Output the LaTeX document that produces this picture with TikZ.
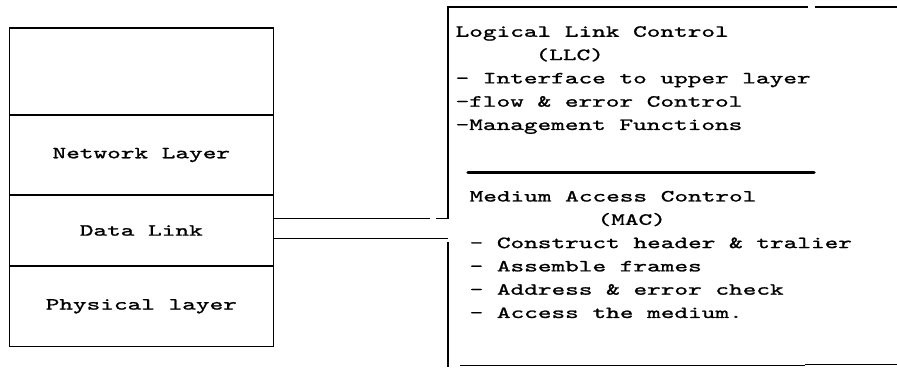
\documentclass[tikz,border=0pt]{standalone}
\usepackage{fontspec}
\setmonofont{lmmono10-regular.otf}[FakeStretch=1.53,FakeBold=1.2]
\newcommand{\laytext}{\ttfamily\fontsize{17}{23.3}\selectfont}
\begin{document}
\begin{tikzpicture}[x=1pt,y=-1pt,line width=1.2pt,
  layer/.style={draw,minimum width=264pt,inner sep=0pt,font=\laytext},
  sublayer/.style={anchor=north west,inner sep=0pt,align=left,font=\laytext}]
\useasboundingbox (0,0) rectangle (897,367);
\node[layer,minimum height=87pt] (upper) at (141.3,71.5) {};
\node[layer,minimum height=80pt] (net) at (141.3,155) {Network Layer};
\node[layer,minimum height=71pt] (dl) at (141.3,230.5) {Data Link};
\node[layer,minimum height=80.7pt] (phy) at (141.3,306.3) {Physical layer};
\node[sublayer] (llc) at (455,25.6) {Logical Link Control\\\hspace*{80pt}(LLC)\\- Interface to upper layer\\-flow \& error Control\\-Management Functions};
\node[sublayer] (mac) at (469,190.3) {Medium Access Control\\\hspace*{128pt}(MAC)\\- Construct header \& tralier\\- Assemble frames\\- Address \& error check\\- Access the medium.};
\draw[line width=3.5pt,line cap=round] (468,172.7) -- (814,172.7);
\coordinate (llcfoot) at (448,218.5);
\coordinate (llctop) at (448,7);
\coordinate (macfoot) at (448,238.5);
\draw (dl.east |- llcfoot) -- ++(156,0);
\draw (llcfoot) ++(-12,0) -- (llcfoot) -- (llctop) -- ++(360,0);
\draw (llctop) ++(367,0) -- (897,7);
\draw[line width=2pt] (llctop) -- ++(0,12);
\draw (dl.east |- macfoot) -- (macfoot);
\draw (448,242) -- (448,367);
\draw (460,365.5) -- (805,365.5);
\draw[line width=1.5pt] (805,364.5) -- (897,364.5);
\end{tikzpicture}
\end{document}
